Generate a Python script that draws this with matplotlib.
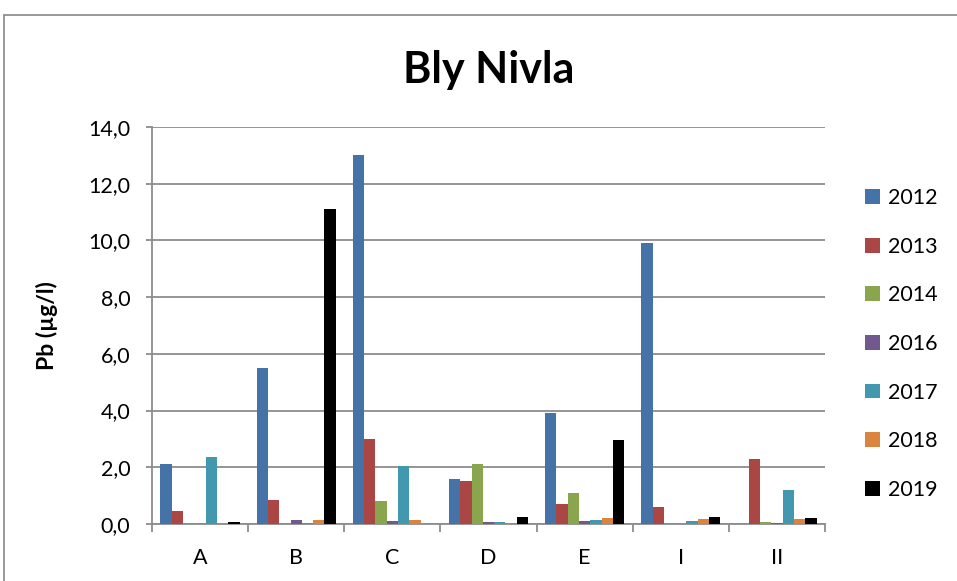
import numpy as np
import matplotlib.pyplot as plt
from matplotlib.patches import Patch, Rectangle
from matplotlib.ticker import FuncFormatter, FixedLocator

# Lead concentration per station and year
stations = ["A", "B", "C", "D", "E", "I", "II"]
years = ["2012", "2013", "2014", "2016", "2017", "2018", "2019"]

pb_2012 = [2.1, 5.5, 13.0, 1.6, 3.9, 9.9, 0.0]
pb_2013 = [0.45, 0.85, 3.0, 1.5, 0.7, 0.6, 2.3]
pb_2014 = [0.0, 0.0, 0.8, 2.1, 1.1, 0.01, 0.08]
pb_2016 = [0.0, 0.15, 0.1, 0.08, 0.12, 0.01, 0.05]
pb_2017 = [2.35, 0.05, 2.05, 0.08, 0.15, 0.1, 1.2]
pb_2018 = [0.0, 0.15, 0.15, 0.0, 0.2, 0.18, 0.17]
pb_2019 = [0.07, 11.1, 0.0, 0.25, 2.95, 0.24, 0.2]

series = [pb_2012, pb_2013, pb_2014, pb_2016, pb_2017, pb_2018, pb_2019]
colors = ["#4572A7", "#AA4643", "#89A54E", "#71588F", "#4198AF", "#DB843D", "#000000"]

plt.rcParams["font.family"] = ["Lato", "DejaVu Sans"]
grid_col = "#8C8C8C"

fig = plt.figure(figsize=(9.57, 5.81), dpi=100)
ax = fig.add_axes([152 / 957, 1 - 524 / 581, 673 / 957, 397 / 581])

# chart frame
fig.patches.append(Rectangle((4 / 957, -0.1), 1.2, 1 - 15 / 581 + 0.1,
                             transform=fig.transFigure, fill=False,
                             edgecolor="#868686", linewidth=1.2))

n = len(series)
w = 1 / (n + 1.5)
x = np.arange(len(stations))
for i, (vals, col, yr) in enumerate(zip(series, colors, years)):
    ax.bar(x + (i - (n - 1) / 2) * w, vals, width=w, color=col, label=yr, zorder=3)

ax.set_xlim(-0.5, len(stations) - 0.5)
ax.set_ylim(0, 14)
ax.set_yticks(np.arange(0, 14.1, 2))
ax.yaxis.set_major_formatter(FuncFormatter(lambda v, p: f"{v:.1f}".replace(".", ",")))
ax.grid(axis="y", color=grid_col, linewidth=1.3, zorder=0)

ax.xaxis.set_major_locator(FixedLocator(np.arange(-0.5, len(stations), 1)))
ax.xaxis.set_minor_locator(FixedLocator(x))
ax.xaxis.set_major_formatter(FuncFormatter(lambda v, p: ""))
ax.set_xticklabels(stations, minor=True)
ax.tick_params(axis="x", which="major", length=6, width=1.3, color=grid_col)
ax.tick_params(axis="x", which="minor", length=0, pad=17, labelsize=15.5)
ax.tick_params(axis="y", length=4.5, width=1.3, color=grid_col, pad=11, labelsize=15.5)

for s in ["top", "right"]:
    ax.spines[s].set_visible(False)
for s in ["left", "bottom"]:
    ax.spines[s].set_color(grid_col)
    ax.spines[s].set_linewidth(1.3)

ax.set_ylabel("Pb (µg/l)", fontsize=16.5, fontweight="bold")
ax.yaxis.set_label_coords(-0.14, 0.5)

fig.text((152 + 825) / 2 / 957, 1 - 70 / 581, "Bly Nivla", ha="center", va="center",
         fontsize=31, fontweight="bold")

handles = [Patch(facecolor=c, label=y) for c, y in zip(colors, years)]
fig.legend(handles=handles, loc="center left", bbox_to_anchor=(865 / 957, 1 - 344 / 581),
           frameon=False, fontsize=15.5, handlelength=0.68, handleheight=0.68,
           handletextpad=0.4, labelspacing=1.33, borderpad=0, borderaxespad=0)

fig.savefig("out.png", dpi=100)
